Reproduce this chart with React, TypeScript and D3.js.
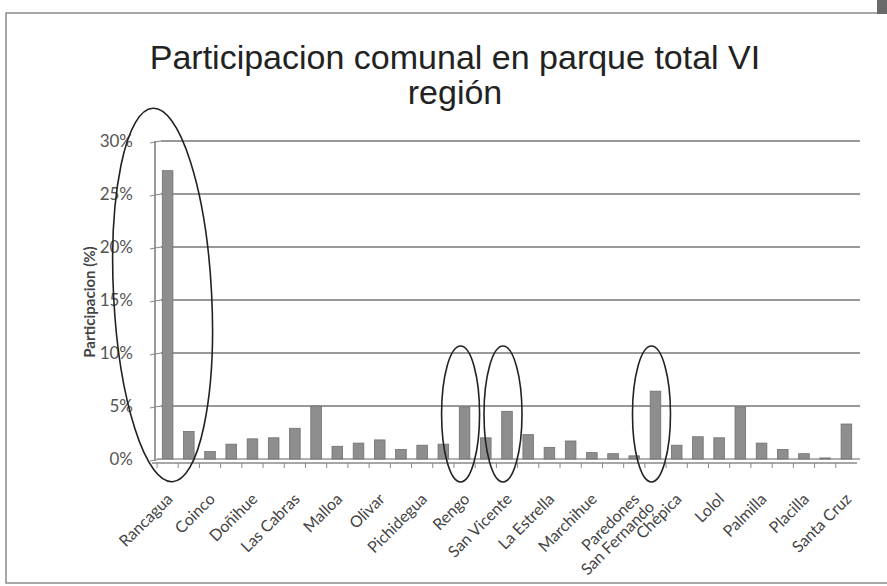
import React from 'react';
import * as d3 from 'd3';

// Comunas de la VI región, en el orden del gráfico
const comunas = [
  'Rancagua', 'Codegua', 'Coinco', 'Coltauco', 'Doñihue', 'Graneros', 'Las Cabras',
  'Machalí', 'Malloa', 'Mostazal', 'Olivar', 'Peumo', 'Pichidegua', 'Quinta de Tilcoco',
  'Rengo', 'Requínoa', 'San Vicente', 'Pichilemu', 'La Estrella', 'Litueche', 'Marchihue',
  'Navidad', 'Paredones', 'San Fernando', 'Chépica', 'Chimbarongo', 'Lolol', 'Nancagua',
  'Palmilla', 'Peralillo', 'Placilla', 'Pumanque', 'Santa Cruz',
];

// participación (%)
const participacion = [
  27.2, 2.6, 0.7, 1.4, 1.9, 2.0, 2.9,
  5.0, 1.2, 1.5, 1.8, 0.9, 1.3, 1.4,
  4.9, 2.0, 4.5, 2.3, 1.1, 1.7, 0.6,
  0.5, 0.3, 6.4, 1.3, 2.1, 2.0, 4.9,
  1.5, 0.9, 0.5, 0.1, 3.3,
];

// etiquetas visibles en el eje x
const etiquetas = [
  'Rancagua', 'Coinco', 'Doñihue', 'Las Cabras', 'Malloa', 'Olivar', 'Pichidegua',
  'Rengo', 'San Vicente', 'La Estrella', 'Marchihue', 'Paredones', 'San Fernando',
  'Chépica', 'Lolol', 'Palmilla', 'Placilla', 'Santa Cruz',
];

const yTicks = [0, 5, 10, 15, 20, 25, 30];

// comunas destacadas con óvalos a mano
const destacadas = ['Rancagua', 'Rengo', 'San Vicente', 'San Fernando'];

const W = 887;
const H = 586;

export default function App() {
  const x = d3.scaleBand<string>()
    .domain(comunas)
    .range([157, 857])
    .paddingInner(0.5)
    .paddingOuter(0.25);

  const y = d3.scaleLinear().domain([0, 30]).range([459, 141]);

  const font = 'Lato, "Open Sans", sans-serif';
  const titleFont = '"Liberation Sans", Arial, sans-serif';
  const cx = (c: string) => (x(c) ?? 0) + x.bandwidth() / 2;

  return (
    <svg width={W} height={H} style={{ position: 'absolute', left: 0, top: 0, background: '#fff' }}>
      <rect x={0} y={0} width={W} height={H} fill="#fff" />
      {/* marco */}
      <rect x={6} y={13} width={W + 10} height={570} fill="none" stroke="#8a8a8a" strokeWidth={1.5} />
      <rect x={877} y={0} width={10} height={14} fill="#6a6a6a" />

      {/* título */}
      <text x={455} y={69} textAnchor="middle" fontFamily={titleFont}
        fontSize={34} fill="#222">Participacion comunal en parque total VI</text>
      <text x={455} y={104} textAnchor="middle" fontFamily={titleFont}
        fontSize={34} fill="#222">región</text>

      {/* rejilla */}
      {yTicks.filter(t => t > 0).map(t => (
        <line key={'g' + t} x1={161} x2={860} y1={y(t)} y2={y(t)} stroke="#999" strokeWidth={1.8} />
      ))}

      {/* eje y */}
      <line x1={155} x2={155} y1={y(30)} y2={y(0) + 2} stroke="#777" strokeWidth={1.5} />
      {yTicks.map(t => (
        <g key={'t' + t}>
          <path d={`M150,${y(t) + 2} L155,${y(t) + 1} L161,${y(t)}`} fill="none" stroke="#888" strokeWidth={1.2} />
          <text x={133} y={y(t)} dy="0.35em" textAnchor="end" fontFamily={font} fontSize={17} fill="#555">{t}%</text>
        </g>
      ))}
      <text transform={`translate(95,302) rotate(-90)`} textAnchor="middle" fontFamily={font}
        fontSize={15} fontWeight="bold" fill="#444">Participacion (%)</text>

      {/* piso / eje x */}
      <line x1={157} x2={860} y1={y(0)} y2={y(0)} stroke="#999" strokeWidth={1.5} />
      <line x1={152} x2={857} y1={y(0) + 4} y2={y(0) + 4} stroke="#888" strokeWidth={1.5} />
      {comunas.map((c, i) => (
        <line key={'xt' + i} x1={(x(c) ?? 0) - x.step() * 0.25} x2={(x(c) ?? 0) - x.step() * 0.25}
          y1={y(0) + 4} y2={y(0) + 9} stroke="#888" strokeWidth={1} />
      ))}

      {/* barras */}
      {comunas.map((c, i) => (
        <rect key={'b' + i} x={x(c)} y={y(participacion[i])} width={x.bandwidth()}
          height={y(0) - y(participacion[i])} fill="#8e8e8e" stroke="#6f6f6f" strokeWidth={0.8} />
      ))}

      {/* etiquetas x */}
      {etiquetas.map(c => {
        const sf = c === 'San Fernando';
        return (
          <text key={'l' + c} transform={`translate(${cx(c) - (sf ? 8 : 2)},${sf ? 500 : 492}) rotate(-45)`}
            textAnchor="end" dy="0.71em" fontFamily={font} fontSize={16} fill="#444">{c}</text>
        );
      })}

      {/* óvalos */}
      {destacadas.map(c => {
        const big = c === 'Rancagua';
        return (
          <ellipse key={'e' + c}
            cx={big ? cx(c) - 5 : cx(c) - 4}
            cy={big ? 295 : 414}
            rx={big ? 49 : 19}
            ry={big ? 187 : 68}
            transform={big ? `rotate(-3 ${cx(c) - 5} 295)` : undefined}
            fill="none" stroke="#222" strokeWidth={1.6} />
        );
      })}
    </svg>
  );
}
